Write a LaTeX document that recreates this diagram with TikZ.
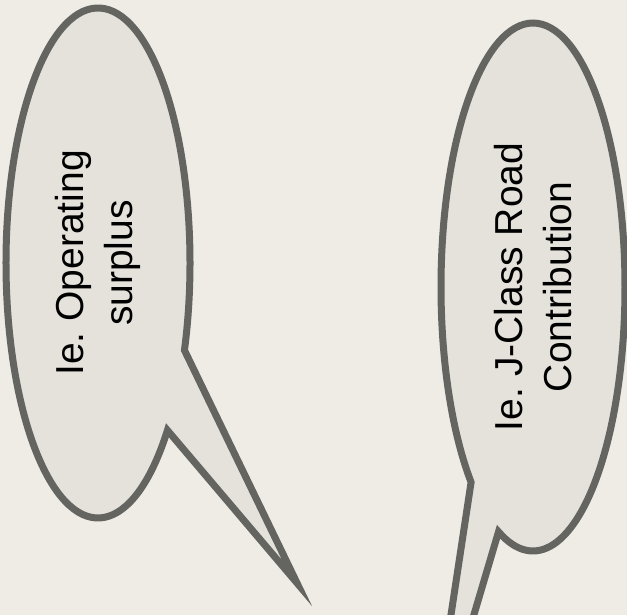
\documentclass[tikz,border=0pt]{standalone}
\usepackage{fontspec}
\setmainfont{Liberation Sans}
\usetikzlibrary{calc}
\definecolor{pagebg}{RGB}{238,236,228}
\definecolor{bubblefill}{RGB}{228,226,219}
\definecolor{bubbleline}{RGB}{100,101,96}
\frenchspacing
\begin{document}
\begin{tikzpicture}[x=1pt,y=1pt,
  bubble/.style={fill=bubblefill, draw=bubbleline, line width=7pt, miter limit=12},
  bubbletext/.style={rotate=90, align=center, font=\fontsize{39}{49}\selectfont, text=black, inner sep=0pt}]
% page background and frame
\fill[pagebg] (0,0) rectangle (627,615);
\useasboundingbox (0,0) rectangle (627,615);
\clip (0,0) rectangle (627,615);

% centres of the two speech bubbles and the tips of their tails
\coordinate (lc) at (98,352);
\coordinate (ltip) at (297,32);
\coordinate (rc) at (533,328);
\coordinate (rtip) at (427,-158);

% left bubble: ellipse outline running round to the tail, then out to the tip
\draw[bubble] ($(lc)+(-41:92 and 255)$)
  arc[start angle=-41, end angle=-380, x radius=92, y radius=255]
  -- (ltip) -- cycle;

% right bubble: tail leaves the lower left of the ellipse
\draw[bubble] ($(rc)+(-132.3:92 and 264)$)
  arc[start angle=-132.3, end angle=-472, x radius=92, y radius=264]
  -- (rtip) -- cycle;

% rotated captions
\node[bubbletext] (ltext) at (lc) {Ie. Operating\\surplus};
\node[bubbletext] (rtext) at (rc) {Ie. J-Class Road\\Contribution};
\end{tikzpicture}
\end{document}
